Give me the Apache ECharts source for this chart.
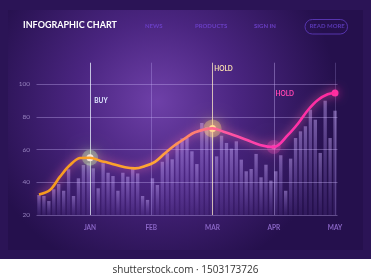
<!DOCTYPE html>
<html>
<head>
<meta charset="utf-8">
<script src="https://cdn.jsdelivr.net/npm/echarts@6/dist/echarts.min.js"></script>
<style>
html,body{margin:0;padding:0;background:#ffffff;}
#chart{width:371px;height:280px;}
</style>
</head>
<body>
<div id="chart"></div>
<script>
// ---- data ----
const chartTitle = 'INFOGRAPHIC CHART';
const navItems = ['NEWS', 'PRODUCTS', 'SIGN IN'];
const buttonText = 'READ MORE';
const watermark = 'shutterstock.com · 1503173726';
const months = ['JAN', 'FEB', 'MAR', 'APR', 'MAY'];
const yTicks = [20, 40, 60, 80, 100];
const barValues = [
  32.2, 31.6, 28.5, 35.7, 38.9, 34.8, 47.9, 31.6, 42.4, 50.5,
  51.6, 48.5, 36.3, 51.6, 45.8, 43.8, 34.8, 45.8, 43.4, 48.5,
  45.4, 31.6, 29.2, 42.4, 38.3, 52.5, 57.7, 54.0, 64.2, 66.8,
  67.0, 58.9, 51.1, 76.2, 73.6, 73.1, 55.8, 68.4, 64.0, 60.5,
  65.0, 53.8, 46.7, 48.1, 57.3, 43.0, 50.7, 41.0, 46.7, 56.5,
  34.8, 54.4, 67.0, 71.1, 74.2, 84.3, 78.2, 57.9, 89.8, 67.0, 83.7
];
// line: x in months (JAN = 1 ... MAY = 5)
const lineMonths = [0.167, 0.347, 0.51, 0.673, 0.837, 1.0, 1.163, 1.327, 1.571, 1.735,
  1.898, 2.061, 2.224, 2.388, 2.551, 2.714, 3.0, 3.18, 3.339, 3.563,
  3.776, 4.0, 4.233, 4.4, 4.56, 4.72, 4.88, 5.0];
const lineValues = [32.5, 35.3, 43.4, 50.5, 54.8, 55.0, 53.2, 51.6, 49.1, 48.5,
  49.9, 52.5, 57.7, 62.7, 66.8, 70.5, 72.9, 70.9, 68.9, 65.8,
  62.8, 61.5, 68.9, 76.0, 84.1, 90.2, 93.7, 94.5];
const signalMonths = [1, 3, 4, 5];
const signalLabels = ['BUY', 'HOLD', 'HOLD', ''];

// ---- styles ----
const signalStyles = [
  {dot: '#f4ffe6', glow: 'rgba(180,255,150,1)', halo: 'rgba(200,255,170,0.35)', haloSize: 16, size: 7, text: '#dfe9ff', vline: 'rgba(235,245,255,0.75)', dy: -45},
  {dot: '#fff08f', glow: 'rgba(255,225,90,1)', halo: 'rgba(255,230,120,0.35)', haloSize: 18, size: 7, text: '#f4d9ae', vline: 'rgba(255,236,200,0.75)', dy: -47},
  {dot: 'rgba(255,110,200,0.55)', glow: 'rgba(255,60,180,1)', halo: 'rgba(255,80,190,0.25)', haloSize: 14, size: 5, text: '#ff45b0', vline: 'rgba(210,190,255,0.38)', dy: -42},
  {dot: '#ff2aa0', glow: 'rgba(255,40,160,0.8)', halo: 'rgba(255,40,160,0)', haloSize: 0, size: 7, text: '#ff45b0', vline: 'rgba(200,180,255,0.22)', dy: -42}
];
const monthLineStyle = {1: 0, 2: null, 3: 1, 4: 2, 5: 3};

const lineData = lineMonths.map((m, i) => [m, lineValues[i]]);
const valueAt = m => lineValues[lineMonths.indexOf(m)];

const Y_MAX = 113;
const GRID_TOP = 215 - 131 * (Y_MAX - 20) / 80;

const chart = echarts.init(document.getElementById('chart'), null, {renderer: 'canvas'});

const vLines = [1, 2, 3, 4, 5].map(m => {
  const s = monthLineStyle[m];
  const col = s === null ? 'rgba(200,180,255,0.3)' : signalStyles[s].vline;
  return {xAxis: m, lineStyle: {color: col, width: 1, type: 'solid'}};
});

const halos = signalMonths.map((m, i) => {
  const st = signalStyles[i];
  return {
    coord: [m, valueAt(m)], symbol: 'circle', symbolSize: st.haloSize,
    itemStyle: {color: st.halo, shadowBlur: 16, shadowColor: st.glow},
    label: {show: false}
  };
});
const cores = signalMonths.map((m, i) => {
  const st = signalStyles[i];
  return {
    coord: [m, valueAt(m)],
    symbol: 'circle',
    symbolSize: st.size,
    itemStyle: {color: st.dot, shadowBlur: 10, shadowColor: st.glow},
    label: {
      show: signalLabels[i] !== '',
      formatter: signalLabels[i],
      position: 'top',
      offset: [11, st.dy],
      color: st.text,
      fontSize: 6.5,
      fontWeight: 'bold',
      fontFamily: 'Lato'
    }
  };
});

const option = {
  backgroundColor: 'transparent',
  animation: false,
  graphic: [
    {type: 'rect', z: -10, shape: {x: 0, y: 0, width: 371, height: 259}, style: {fill: '#2b1456'}},
    {type: 'rect', z: -9, shape: {x: 8, y: 10, width: 355, height: 240},
      style: {fill: new echarts.graphic.RadialGradient(0.42, 0.38, 0.75, [
        {offset: 0, color: '#6e40a8'},
        {offset: 0.45, color: '#4a2580'},
        {offset: 1, color: '#25104d'}
      ])}},
    {type: 'text', left: 23, top: 21, style: {text: chartTitle, fill: '#ffffff', font: 'bold 9px Lato'}},
    {type: 'text', left: 145, top: 23, style: {text: navItems[0], fill: '#6a3ec4', font: 'bold 6px Lato'}},
    {type: 'text', left: 195, top: 23, style: {text: navItems[1], fill: '#6a3ec4', font: 'bold 6px Lato'}},
    {type: 'text', left: 254, top: 23, style: {text: navItems[2], fill: '#6a3ec4', font: 'bold 6px Lato'}},
    {type: 'rect', shape: {x: 305, y: 19.5, width: 42.5, height: 14.5, r: 7.25},
      style: {fill: 'transparent', stroke: '#5634ad', lineWidth: 1}},
    {type: 'text', left: 309.5, top: 23.5, style: {text: buttonText, fill: '#5a38b4', font: 'bold 6px Lato'}},
    {type: 'text', left: 'center', top: 265, style: {text: watermark, fill: '#333333', font: '10px "Open Sans"'}}
  ],
  grid: [
    {left: 36.5, right: 33.5, top: GRID_TOP, bottom: 65},
    {left: 28.75, right: 371 - 28.75 - 61.25 * 5.05, top: GRID_TOP, bottom: 65}
  ],
  xAxis: [
    {type: 'category', gridIndex: 0, data: barValues.map((v, i) => i), show: false, boundaryGap: true},
    {type: 'value', gridIndex: 1, min: 0, max: 5.05, interval: 1,
      axisLine: {show: false}, axisTick: {show: false}, splitLine: {show: false},
      axisLabel: {showMinLabel: false, showMaxLabel: false, margin: 9,
        formatter: v => months[Math.round(v) - 1] || '',
        color: '#8a66c6', fontSize: 6.5, fontWeight: 'bold', fontFamily: 'Lato'}}
  ],
  yAxis: [
    {type: 'value', gridIndex: 0, min: 20, max: Y_MAX, interval: 20,
      axisLine: {show: false}, axisTick: {show: false}, splitLine: {show: false},
      axisLabel: {showMaxLabel: false, margin: 6.5, color: '#9580bd', fontSize: 6.5, fontFamily: 'Lato'}},
    {type: 'value', gridIndex: 1, min: 20, max: Y_MAX, interval: 20, show: false, splitLine: {show: false}}
  ],
  series: [
    {
      type: 'bar', xAxisIndex: 0, yAxisIndex: 0, data: barValues, barWidth: '68%',
      itemStyle: {color: new echarts.graphic.LinearGradient(0, 0, 0, 1, [
        {offset: 0, color: 'rgba(205,175,255,0.45)'},
        {offset: 1, color: 'rgba(150,110,230,0.1)'}
      ])},
      silent: true,
      markLine: {
        silent: true, symbol: 'none', label: {show: false},
        lineStyle: {color: 'rgba(210,190,255,0.35)', width: 1, type: 'solid'},
        data: yTicks.map(v => ({yAxis: v}))
      }
    },
    {
      type: 'line', xAxisIndex: 1, yAxisIndex: 1, data: lineData, smooth: 0.35,
      showSymbol: false, silent: true, z: 5,
      lineStyle: {
        width: 2.6,
        color: new echarts.graphic.LinearGradient(0, 0, 1, 0, [
          {offset: 0, color: '#f59a1c'},
          {offset: 0.4, color: '#ffa535'},
          {offset: 0.52, color: '#ff8070'},
          {offset: 0.62, color: '#ff5aa0'},
          {offset: 0.78, color: '#ff35ae'},
          {offset: 1, color: '#ff2a9c'}
        ]),
        shadowBlur: 10,
        shadowColor: 'rgba(255,110,170,0.85)'
      },
      markLine: {silent: true, symbol: 'none', label: {show: false}, data: vLines},
      markPoint: {silent: true, data: halos.concat(cores)}
    }
  ]
};
chart.setOption(option);
</script>
</body>
</html>
